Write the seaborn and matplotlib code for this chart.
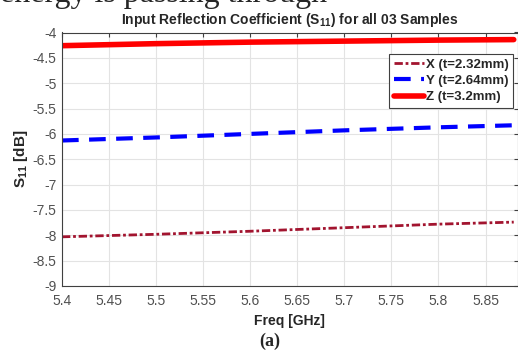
import numpy as np
import pandas as pd
import matplotlib
matplotlib.use('Agg')
import matplotlib.pyplot as plt
import seaborn as sns

# values
freq = [5.40, 5.50, 5.60, 5.70, 5.80, 5.88]
s11_x = [-8.03, -7.98, -7.92, -7.85, -7.78, -7.74]
s11_y = [-6.13, -6.07, -6.00, -5.93, -5.87, -5.83]
s11_z = [-4.26, -4.22, -4.19, -4.17, -4.15, -4.14]

labels = ["X (t=2.32mm)", "Y (t=2.64mm)", "Z (t=3.2mm)"]
xticks = [5.4, 5.45, 5.5, 5.55, 5.6, 5.65, 5.7, 5.75, 5.8, 5.85]
yticks = [-9, -8.5, -8, -7.5, -7, -6.5, -6, -5.5, -5, -4.5, -4]

sns.set_style("white")
plt.rcParams['font.family'] = ['Liberation Sans', 'DejaVu Sans']
plt.rcParams['mathtext.fontset'] = 'custom'
plt.rcParams['mathtext.rm'] = 'Liberation Sans:bold'
plt.rcParams['mathtext.bf'] = 'Liberation Sans:bold'
plt.rcParams['mathtext.default'] = 'bf'

fig = plt.figure(figsize=(5.18, 3.51), dpi=100)
ax = fig.add_axes([62 / 518, 1 - 286 / 351, 455.5 / 518, 253.5 / 351])

sns.lineplot(x=freq, y=s11_x, ax=ax, label=labels[0], color='#A2142F',
             linestyle=(0, (3, 1, 1, 1)), linewidth=2)
sns.lineplot(x=freq, y=s11_y, ax=ax, label=labels[1], color='#0000FF',
             linestyle=(0, (4, 2.5)), linewidth=3)
sns.lineplot(x=freq, y=s11_z, ax=ax, label=labels[2], color='#FF0000',
             linestyle='-', linewidth=4)

ax.set_xlim(5.4, 5.884)
ax.set_ylim(-9, -4)
ax.set_xticks(xticks)
ax.set_xticklabels([f"{t:g}" for t in xticks])
ax.set_yticks(yticks)
ax.set_yticklabels([f"{t:g}" for t in yticks])
ax.grid(True, color='#e3e3e3', linewidth=0.8)
ax.tick_params(direction='in', length=3, top=True, right=True,
               labelsize=10, labelcolor='#505050', color='#404040')
ax.tick_params(axis='x', pad=6)
ax.tick_params(axis='y', pad=4)
for s in ax.spines.values():
    s.set_color('#404040')
    s.set_linewidth(0.8)

ax.set_title(r"Input Reflection Coefficient (S$_{11}$) for all 03 Samples",
             fontsize=10, fontweight='bold', pad=6)
ax.set_xlabel("Freq [GHz]", fontsize=10, fontweight='bold', labelpad=4)
ax.set_ylabel(r"S$_{11}$ [dB]", fontsize=11, fontweight='bold', labelpad=2)

leg = ax.legend(loc='upper right', bbox_to_anchor=(0.991, 0.915),
                borderaxespad=0, fancybox=False, framealpha=1,
                handlelength=2.3, handletextpad=0.15, labelspacing=0.3,
                borderpad=0.35, prop={'weight': 'bold', 'size': 9.5})
leg.get_frame().set_edgecolor('#404040')
leg.get_frame().set_linewidth(0.8)

fig.text(0.0, 1 - 2 / 351, "energy is passing through", family='Liberation Serif',
         fontsize=23, va='baseline', ha='left')
fig.text(270 / 518, 1 - 341 / 351, "(a)", family='Liberation Serif',
         fontsize=13, fontweight='bold', va='center', ha='center')

fig.savefig("out.png", dpi=100)
